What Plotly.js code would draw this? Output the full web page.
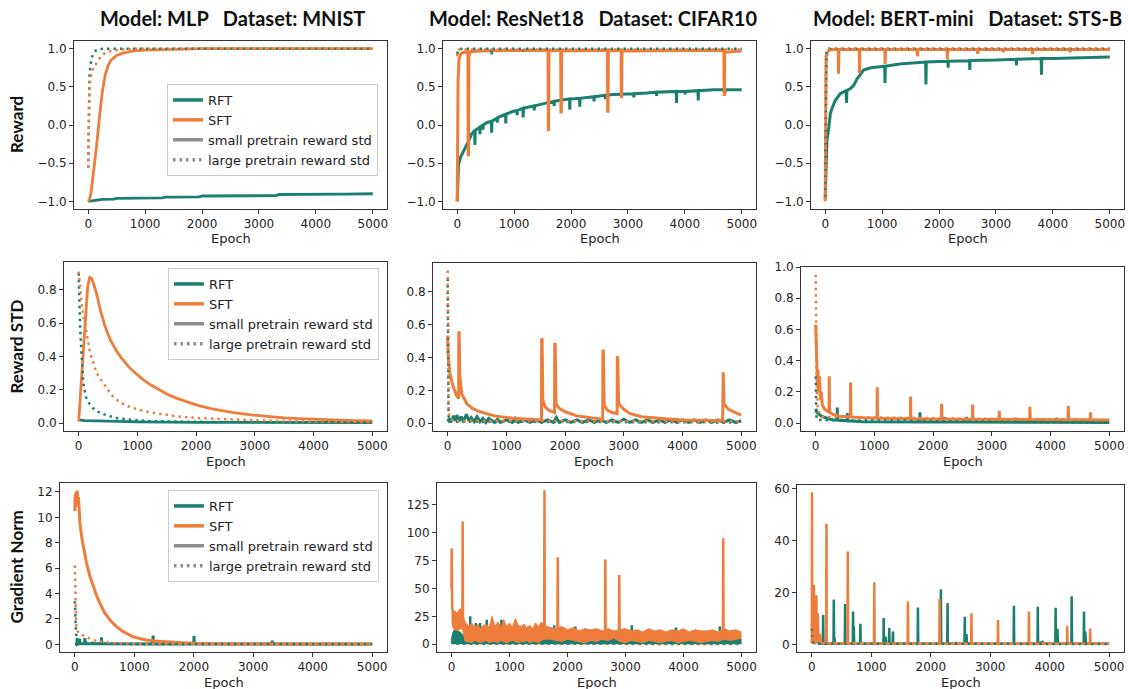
<!DOCTYPE html>
<html><head><meta charset="utf-8">
<script src="https://cdn.plot.ly/plotly-3.0.1.min.js"></script>
<style>html,body{margin:0;padding:0;background:#fff}#chart{width:1128px;height:689px}</style>
</head><body><div id="chart"></div>
<script>
// ---------------- labels ----------------
const colTitles = ['Model: MLP   Dataset: MNIST', 'Model: ResNet18   Dataset: CIFAR10', 'Model: BERT-mini   Dataset: STS-B'];
const rowTitles = ['Reward', 'Reward STD', 'Gradient Norm'];
const xTitle = 'Epoch';
const legendNames = ['RFT', 'SFT', 'small pretrain reward std', 'large pretrain reward std'];
const epochTicks = [0, 1000, 2000, 3000, 4000, 5000];
const rewardTicks = [-1, -0.5, 0, 0.5, 1];
const rewardTickText = ['\u22121.0', '\u22120.5', '0.0', '0.5', '1.0'];
const stdTicks = [0, 0.2, 0.4, 0.6, 0.8];
const stdTickText = ['0.0', '0.2', '0.4', '0.6', '0.8'];
const stdTicksB = [0, 0.2, 0.4, 0.6, 0.8, 1.0];
const stdTickTextB = ['0.0', '0.2', '0.4', '0.6', '0.8', '1.0'];
const gnTicksMlp = [0, 2, 4, 6, 8, 10, 12];
const gnTicksRes = [0, 25, 50, 75, 100, 125];
const gnTicksBert = [0, 20, 40, 60];

// ---------------- Reward: MLP / MNIST ----------------
const mlpRewRftS = [[0,-1.0],[100,-0.99],[250,-0.975],[450,-0.97],[500,-0.96],[1300,-0.955],[1350,-0.945],[1950,-0.94],[2000,-0.93],[3300,-0.925],[3350,-0.91],[4500,-0.905],[5000,-0.9]];
const mlpRewSftS = [[0,-1.0],[25,-0.97],[50,-0.88],[100,-0.6],[150,-0.25],[200,0.12],[250,0.45],[300,0.66],[350,0.78],[400,0.85],[500,0.91],[600,0.94],[800,0.97],[1000,0.98],[1500,0.99],[2000,1.0],[5000,1.0]];
const mlpRewRftL = [[0,-0.56],[10,0.2],[23,0.67],[52,0.85],[80,0.92],[140,0.98],[250,1.0],[5000,1.0]];
const mlpRewSftL = [[0,-0.56],[10,0.0],[20,0.45],[40,0.62],[80,0.72],[157,0.83],[227,0.9],[315,0.95],[400,0.97],[600,0.99],[900,1.0],[5000,1.0]];

// ---------------- Reward: ResNet18 / CIFAR10 ----------------
const resRewRftS = [[0,-1.0],[10,-0.75],[23,-0.52],[60,-0.42],[105,-0.35],[150,-0.3],[193,-0.22],[250,-0.12],[305,-0.07],[311,-0.26],[317,-0.07],[395,-0.03],[399,-0.12],[405,-0.02],[450,0.0],[454,-0.06],[458,0.0],[516,0.03],[600,0.05],[604,-0.1],[610,0.05],[700,0.09],[704,0.03],[708,0.09],[750,0.11],[849,0.14],[853,0.02],[858,0.14],[985,0.18],[1050,0.19],[1054,0.13],[1058,0.19],[1154,0.22],[1158,0.1],[1163,0.22],[1280,0.24],[1350,0.25],[1354,0.19],[1358,0.25],[1575,0.29],[1700,0.31],[1704,0.25],[1708,0.31],[1868,0.33],[1974,0.34],[1978,0.2],[1983,0.34],[2150,0.35],[2154,0.24],[2159,0.35],[2400,0.37],[2404,0.31],[2408,0.37],[2600,0.39],[2604,0.34],[2608,0.39],[2747,0.40],[3100,0.41],[3104,0.36],[3108,0.41],[3334,0.42],[3500,0.43],[3504,0.38],[3508,0.43],[3850,0.44],[3854,0.29],[3859,0.44],[4000,0.44],[4004,0.4],[4008,0.44],[4231,0.45],[4235,0.32],[4240,0.45],[4506,0.46],[4700,0.46],[4704,0.41],[4708,0.46],[5000,0.46]];
const resRewSftS = [[0,-1.0],[5,-0.2],[15,0.6],[30,0.85],[60,0.93],[100,0.95],[188,0.96],[193,-0.39],[199,-0.39],[204,0.9],[230,0.96],[400,0.97],[800,0.975],[1595,0.98],[1600,-0.06],[1606,-0.06],[1611,0.97],[1818,0.98],[1823,0.17],[1829,0.17],[1834,0.97],[2639,0.98],[2644,0.18],[2650,0.18],[2655,0.97],[2879,0.98],[2884,0.37],[2890,0.37],[2895,0.97],[4685,0.98],[4690,0.4],[4696,0.4],[4701,0.95],[4800,0.96],[5000,0.97]];
const resRewRftL = [[0,0.93],[20,0.99],[100,1.0],[598,1.0],[604,0.91],[610,1.0],[1152,1.0],[1158,0.96],[1164,1.0],[5000,1.0]];
const resRewSftL = [[0,0.9],[10,0.98],[30,0.99],[5000,0.99]];

// ---------------- Reward: BERT-mini / STS-B ----------------
const bertRewRftS = [[0,-0.97],[15,-0.5],[30,-0.2],[60,-0.05],[90,0.15],[120,0.22],[175,0.32],[263,0.41],[368,0.45],[374,0.29],[380,0.45],[450,0.48],[500,0.52],[556,0.6],[620,0.67],[673,0.72],[800,0.75],[1045,0.77],[1050,0.55],[1056,0.77],[1300,0.8],[1608,0.82],[1764,0.825],[1770,0.53],[1776,0.825],[2000,0.83],[2155,0.835],[2160,0.75],[2166,0.835],[2535,0.84],[2540,0.72],[2546,0.845],[3000,0.85],[3355,0.86],[3360,0.78],[3366,0.86],[3795,0.87],[3800,0.66],[3806,0.87],[4000,0.87],[4532,0.885],[5000,0.89]];
const bertRewSftS = [[0,-1.0],[8,0.0],[15,0.9],[40,0.95],[80,0.99],[228,0.99],[234,0.67],[240,0.99],[597,0.99],[603,0.68],[609,0.99],[1047,0.99],[1053,0.8],[1059,0.99],[1614,0.99],[1620,0.9],[1626,0.99],[2140,0.99],[2146,0.86],[2152,0.99],[2674,0.99],[2680,0.93],[2686,0.99],[3124,0.99],[3130,0.95],[3136,0.99],[3639,0.99],[3645,0.93],[3651,0.99],[4294,0.99],[4300,0.95],[4306,0.99],[5000,0.99]];
const bertRewRftL = [[0,-0.95],[8,0.5],[20,0.95],[60,1.0],[5000,1.0]];
const bertRewSftL = [[0,-0.97],[5,-0.2],[12,0.7],[30,0.97],[100,1.0],[5000,1.0]];

// ---------------- Reward STD: MLP ----------------
const mlpStdRftS = [[0,0.02],[100,0.015],[500,0.012],[1000,0.008],[2000,0.005],[5000,0.004]];
const mlpStdSftS = [[0,0.01],[40,0.22],[80,0.45],[120,0.67],[153,0.82],[187,0.875],[220,0.87],[260,0.83],[310,0.77],[368,0.68],[450,0.58],[538,0.5],[600,0.46],[651,0.43],[730,0.39],[800,0.36],[860,0.335],[934,0.31],[1000,0.29],[1100,0.262],[1217,0.232],[1350,0.203],[1500,0.175],[1650,0.152],[1800,0.132],[2000,0.11],[2250,0.088],[2500,0.071],[2632,0.064],[2900,0.051],[3198,0.04],[3500,0.032],[3764,0.027],[4000,0.023],[4330,0.019],[4700,0.015],[5000,0.013]];
const mlpStdRftL = [[0,0.9],[7,0.78],[24,0.58],[51,0.4],[79,0.24],[120,0.16],[175,0.12],[270,0.08],[373,0.06],[500,0.045],[655,0.03],[900,0.02],[1221,0.012],[2000,0.008],[3000,0.005],[5000,0.003]];
const mlpStdSftL = [[0,0.91],[20,0.82],[57,0.7],[90,0.62],[127,0.56],[195,0.42],[308,0.30],[400,0.25],[478,0.21],[560,0.17],[648,0.14],[780,0.11],[931,0.09],[1200,0.066],[1497,0.05],[1750,0.038],[2063,0.03],[2600,0.021],[3200,0.015],[4000,0.01],[5000,0.007]];

// ---------------- Reward STD: ResNet18 ----------------
const resStdRftS = [[0,0.01],[30,0.03],[60,0.01],[100,0.045],[130,0.015],[160,0.05],[190,0.01],[230,0.04],[270,0.01],[320,0.055],[360,0.015],[400,0.035],[450,0.01],[500,0.04],[550,0.01],[600,0.03],[650,0.005],[700,0.03],[800,0.005],[850,0.025],[900,0.005],[1000,0.02],[1100,0.005],[1150,0.03],[1200,0.005],[1300,0.02],[1400,0.005],[1500,0.02],[1600,0.005],[1700,0.02],[1800,0.005],[1850,0.035],[1900,0.005],[2000,0.02],[2100,0.005],[2200,0.02],[2300,0.005],[2400,0.02],[2500,0.005],[2600,0.02],[2700,0.005],[2800,0.02],[2900,0.005],[3000,0.025],[3100,0.005],[3200,0.02],[3300,0.005],[3400,0.02],[3500,0.005],[3600,0.02],[3700,0.005],[3800,0.02],[3900,0.005],[4000,0.02],[4100,0.005],[4200,0.02],[4300,0.005],[4400,0.02],[4500,0.005],[4600,0.02],[4700,0.005],[4800,0.02],[4900,0.005],[5000,0.015]];
const resStdSftS = [[0,0.53],[10,0.4],[39,0.30],[96,0.22],[150,0.17],[186,0.15],[190,0.55],[196,0.55],[205,0.3],[238,0.18],[323,0.12],[420,0.09],[549,0.07],[800,0.045],[1116,0.03],[1300,0.025],[1597,0.02],[1600,0.51],[1607,0.51],[1620,0.14],[1660,0.1],[1720,0.08],[1820,0.065],[1823,0.48],[1830,0.48],[1845,0.12],[1900,0.09],[2000,0.07],[2200,0.045],[2400,0.035],[2640,0.025],[2643,0.44],[2650,0.44],[2665,0.11],[2720,0.08],[2800,0.065],[2885,0.06],[2888,0.40],[2895,0.40],[2910,0.12],[3000,0.085],[3100,0.06],[3300,0.04],[3600,0.03],[4000,0.02],[4682,0.015],[4685,0.31],[4692,0.31],[4705,0.12],[4780,0.085],[4900,0.065],[5000,0.05]];
const resStdRftL = [[0,0.88],[5,0.4],[15,0.05],[30,0.01],[5000,0.005]];
const resStdSftL = [[0,0.93],[5,0.5],[15,0.1],[30,0.03],[100,0.015],[5000,0.01]];

// ---------------- Reward STD: BERT-mini ----------------
const bertStdRftS = [[0,0.09],[20,0.07],[50,0.06],[100,0.045],[200,0.03],[300,0.02],[364,0.02],[368,0.10],[373,0.02],[535,0.015],[539,0.065],[544,0.015],[800,0.01],[1200,0.008],[1772,0.008],[1776,0.07],[1781,0.008],[2169,0.008],[2173,0.04],[2178,0.008],[2566,0.007],[2570,0.04],[2575,0.007],[3389,0.006],[3393,0.035],[3398,0.006],[3786,0.006],[3790,0.03],[3795,0.006],[4098,0.006],[4102,0.035],[4107,0.006],[5000,0.005]];
const bertStdSftS = [[0,0.63],[10,0.45],[20,0.35],[30,0.25],[40,0.34],[50,0.2],[65,0.3],[80,0.15],[95,0.2],[110,0.12],[150,0.09],[228,0.07],[231,0.30],[237,0.07],[300,0.055],[400,0.045],[591,0.04],[594,0.26],[600,0.04],[800,0.035],[1045,0.032],[1048,0.23],[1054,0.032],[1300,0.03],[1613,0.028],[1616,0.17],[1622,0.028],[2141,0.026],[2144,0.125],[2150,0.026],[2669,0.025],[2672,0.12],[2678,0.025],[3123,0.024],[3126,0.08],[3132,0.024],[3645,0.023],[3648,0.105],[3654,0.023],[4297,0.022],[4300,0.11],[4306,0.022],[4677,0.022],[4680,0.07],[4686,0.022],[5000,0.02]];
const bertStdRftL = [[0,0.3],[10,0.05],[30,0.02],[5000,0.003]];
const bertStdSftL = [[0,0.95],[5,0.6],[10,0.4],[20,0.2],[40,0.08],[100,0.04],[5000,0.02]];

// ---------------- Gradient Norm: MLP ----------------
const mlpGnRftS = [[0,0.02],[35,0.02],[40,0.5],[46,0.02],[75,0.1],[80,0.3],[90,0.05],[163,0.05],[168,0.5],[174,0.05],[300,0.05],[443,0.05],[448,0.55],[454,0.05],[1311,0.03],[1316,0.7],[1322,0.03],[1999,0.02],[2004,0.65],[2010,0.02],[3315,0.02],[3320,0.3],[3326,0.02],[5000,0.02]];
const mlpGnSftS = [[0,10.5],[5,11.8],[10,10.8],[20,12.0],[30,11.2],[40,12.1],[50,11.0],[60,11.6],[84,9.6],[120,8.3],[160,7.2],[196,6.4],[250,5.4],[308,4.55],[360,3.9],[420,3.25],[500,2.5],[588,1.93],[700,1.4],[812,1.0],[900,0.78],[980,0.6],[1100,0.45],[1200,0.35],[1350,0.27],[1540,0.2],[1800,0.12],[2100,0.07],[2500,0.045],[3000,0.03],[5000,0.02]];
const mlpGnRftL = [[0,3.4],[5,2.0],[10,1.3],[20,0.8],[40,0.5],[100,0.3],[200,0.15],[400,0.08],[800,0.04],[5000,0.01]];
const mlpGnSftL = [[0,6.2],[5,4.0],[10,2.8],[20,1.6],[30,1.2],[50,1.0],[100,0.8],[200,0.55],[300,0.35],[400,0.25],[600,0.12],[1000,0.05],[2000,0.02],[5000,0.01]];

// ---------------- Gradient Norm: ResNet18 (noisy bands + spikes) ----------------
const resGnBandEpoch = [0,20,50,100,150,180,220,260,300,350,400,450,500,550,600,650,700,750,800,850,900,950,1000,1050,1100,1150,1200,1250,1300,1350,1400,1450,1500,1550,1600,1700,1800,1900,2000,2100,2200,2300,2400,2500,2600,2700,2800,2900,3000,3100,3200,3300,3400,3500,3600,3700,3800,3900,4000,4100,4200,4300,4400,4500,4600,4700,4800,4900,5000];
const resGnSftHigh = [45,31,30,28,32,30,22,18,16,19,15,18,14,17,18,15,25,16,20,15,22,16,19,15,23,17,16,18,15,17,14,19,16,20,17,15,14,16,13,15,12,14,13,14,12,14,12,13,14,12,13,11,14,12,13,11,13,12,14,11,13,12,12,13,11,14,12,13,11];
const resGnSftLow = [20,14,13,12,13,14,3,2,2,1,3,2,1,2,3,1,2,2,1,3,2,1,2,3,2,1,2,2,3,1,2,2,1,3,4,4,3,2,4,3,2,1,3,2,4,3,5,2,1,3,2,1,3,2,1,2,3,1,2,3,2,1,2,3,2,4,3,4,5];
const resGnRftHigh = [5,10,13,12,11,9,7,6,8,6,9,5,7,6,8,5,7,6,8,5,6,7,5,6,8,5,6,5,7,5,6,5,6,5,6,5,6,4,5,4,5,4,5,4,5,4,6,4,5,4,5,4,5,4,5,4,5,4,5,4,5,4,5,4,5,6,5,4,5];
const resGnSftSpikes = [[0,50],[3,86],[12,31],[null,null],[188,25],[193,110],[198,20],[null,null],[1598,17],[1603,138],[1608,15],[null,null],[1827,14],[1832,78],[1837,14],[null,null],[2647,13],[2652,76],[2657,13],[null,null],[2888,12],[2893,62],[2898,12],[null,null],[4680,13],[4685,95],[4690,13]];
const resGnRftSpikes = [[318,4],[322,25],[326,4],[null,null],[415,4],[419,19],[423,4],[null,null],[489,4],[493,19],[497,4],[null,null],[604,4],[608,22],[612,4],[null,null],[856,4],[860,22],[864,4],[null,null],[1766,4],[1770,17],[1774,4],[null,null],[2131,4],[2135,16],[2139,4],[null,null],[3104,4],[3108,17],[3112,4],[null,null],[3866,4],[3870,15],[3874,4],[null,null],[4622,4],[4626,16],[4630,4]];
const resGnRftL = [[0,3],[20,1],[100,0.5],[5000,0.3]];
const resGnSftL = [[0,5],[20,2],[100,1],[5000,0.5]];

// ---------------- Gradient Norm: BERT-mini ----------------
const bertGnRftS = [[0,0.5],[30,6],[40,1],[60,5.5],[70,1],[110,2],[120,0.3],[185,0.3],[190,11.4],[195,0.3],[364,0.3],[369,17.3],[374,0.3],[380,2.5],[390,0.3],[554,0.3],[559,15.6],[564,0.3],[688,0.3],[693,12.7],[698,0.3],[705,7],[712,0.3],[811,0.3],[816,8],[821,0.3],[1203,0.3],[1208,10.2],[1213,0.3],[1240,3],[1250,0.3],[1297,0.3],[1302,6.3],[1307,0.3],[1359,0.3],[1364,5],[1369,0.3],[1779,0.3],[1784,14.3],[1789,0.3],[2165,0.3],[2170,21.3],[2175,0.3],[2277,0.3],[2282,16],[2287,0.3],[2427,0.3],[2432,1],[2437,0.3],[2567,0.3],[2572,10.7],[2577,0.3],[2600,4],[2610,0.3],[3393,0.3],[3398,14.9],[3403,0.3],[3795,0.3],[3800,14.5],[3805,0.3],[3880,1],[3890,0.3],[4095,0.3],[4100,14.2],[4105,0.3],[4130,6],[4140,0.3],[4365,0.3],[4370,18.6],[4375,0.3],[4572,0.3],[4577,12.7],[4582,0.3],[4600,5],[4610,0.3],[5000,0.3]];
const bertGnSftS = [[0,0.5],[2,58.7],[6,1],[20,8],[28,1],[33,23],[38,2],[50,10],[58,1],[70,14],[77,19],[84,1],[100,12],[110,1],[140,4],[150,0.5],[240,0.5],[245,46.6],[250,0.5],[599,0.4],[604,35.9],[609,0.4],[1045,0.4],[1050,24],[1055,0.4],[1611,0.3],[1616,16.6],[1621,0.3],[2143,0.3],[2148,17.5],[2153,0.3],[2679,0.3],[2684,12],[2689,0.3],[3126,0.3],[3131,9.4],[3136,0.3],[3646,0.3],[3651,12.7],[3656,0.3],[4290,0.3],[4295,7],[4300,0.3],[4676,0.3],[4681,6.2],[4686,0.3],[5000,0.3]];
const bertGnRftL = [[0,6],[10,1],[50,0.3],[5000,0.2]];
const bertGnSftL = [[0,8],[10,2],[50,0.5],[5000,0.3]];

// ---------------- styling ----------------
const W = 1128, H = 689;
const TEAL = '#1b7f70', ORANGE = '#ee7d3b', GRAY = '#8c8c8c';
const DOT = '2.5px,4px';
const frames = [[74,387,41,209],[443,756,41,209],[811,1124,41,209],
                [64,387,262,431],[433,756,263,431],[801,1124,267,431],
                [60,387,483,652],[437,756,483,652],[797,1124,485,652]];
const yRanges = [[-1.1,1.1],[-1.1,1.1],[-1.1,1.1],[-0.047,0.968],[-0.047,0.975],[-0.05,1.0],[-0.6,12.7],[-6.9,144.4],[-2.9,61.5]];
const yTickVals = [rewardTicks, rewardTicks, rewardTicks, stdTicks, stdTicks, stdTicksB, gnTicksMlp, gnTicksRes, gnTicksBert];
const yTickText = [rewardTickText, rewardTickText, rewardTickText, stdTickText, stdTickText, stdTickTextB, null, null, null];

function ax(i, kind) { return kind + (i > 1 ? i : ''); }
function line(pairs, i, color, dotted, width) {
  return {type: 'scatter', mode: 'lines', x: pairs.map(d => d[0]), y: pairs.map(d => d[1]),
    xaxis: ax(i, 'x'), yaxis: ax(i, 'y'), showlegend: false, hoverinfo: 'skip',
    line: {color: color, width: width || 2.5, dash: dotted ? DOT : 'solid'}};
}

const traces = [];
function addPanel(i, rftS, sftS, rftL, sftL, w) {
  traces.push(line(rftS, i, TEAL, false, w));
  traces.push(line(sftS, i, ORANGE, false, w));
  traces.push(line(rftL, i, TEAL, true));
  traces.push(line(sftL, i, ORANGE, true));
}
addPanel(1, mlpRewRftS, mlpRewSftS, mlpRewRftL, mlpRewSftL, 2.8);
addPanel(2, resRewRftS, resRewSftS, resRewRftL, resRewSftL, 3);
addPanel(3, bertRewRftS, bertRewSftS, bertRewRftL, bertRewSftL, 3);
addPanel(4, mlpStdRftS, mlpStdSftS, mlpStdRftL, mlpStdSftL, 2.8);
addPanel(5, resStdRftS, resStdSftS, resStdRftL, resStdSftL, 3);
addPanel(6, bertStdRftS, bertStdSftS, bertStdRftL, bertStdSftL, 3);
addPanel(7, mlpGnRftS, mlpGnSftS, mlpGnRftL, mlpGnSftL, 3);

// panel 8: noisy bands
traces.push(line(resGnRftL, 8, TEAL, true));
traces.push(line(resGnSftL, 8, ORANGE, true));
traces.push({type: 'scatter', mode: 'lines', x: resGnBandEpoch, y: resGnRftHigh, xaxis: 'x8', yaxis: 'y8',
  fill: 'tozeroy', fillcolor: TEAL, line: {color: TEAL, width: 1}, showlegend: false, hoverinfo: 'skip'});
traces.push(line(resGnRftSpikes, 8, TEAL, false, 2.5));
traces.push({type: 'scatter', mode: 'lines', x: resGnBandEpoch, y: resGnSftLow, xaxis: 'x8', yaxis: 'y8',
  line: {color: ORANGE, width: 0}, showlegend: false, hoverinfo: 'skip'});
traces.push({type: 'scatter', mode: 'lines', x: resGnBandEpoch, y: resGnSftHigh, xaxis: 'x8', yaxis: 'y8',
  fill: 'tonexty', fillcolor: ORANGE, line: {color: ORANGE, width: 1}, showlegend: false, hoverinfo: 'skip'});
traces.push(line(resGnSftSpikes, 8, ORANGE, false, 2.5));

addPanel(9, bertGnRftS, bertGnSftS, bertGnRftL, bertGnSftL, 2.5);

// legend proxies
const legendStyles = [[TEAL, 'solid'], [ORANGE, 'solid'], [GRAY, 'solid'], [GRAY, DOT]];
[['legend', 1], ['legend2', 4], ['legend3', 7]].forEach(([lg, i]) => {
  legendNames.forEach((nm, k) => {
    traces.push({type: 'scatter', mode: 'lines', x: [null], y: [null], name: nm, legend: lg,
      xaxis: ax(i, 'x'), yaxis: ax(i, 'y'), showlegend: true, hoverinfo: 'skip',
      line: {color: legendStyles[k][0], width: 3.5, dash: legendStyles[k][1]}});
  });
});

const layout = {
  width: W, height: H, margin: {l: 0, r: 0, t: 0, b: 0},
  paper_bgcolor: '#fff', plot_bgcolor: '#fff',
  font: {family: 'DejaVu Sans', size: 12, color: '#222'},
  showlegend: true, annotations: []
};
const legendBase = {xanchor: 'left', yanchor: 'top', bgcolor: 'rgba(255,255,255,0.85)', bordercolor: '#cccccc',
  borderwidth: 1, font: {family: 'DejaVu Sans', size: 13, color: '#222'}, tracegroupgap: 0, itemwidth: 30,
  traceorder: 'normal'};
layout.legend = Object.assign({x: 167 / W, y: 1 - 84 / H}, legendBase);
layout.legend2 = Object.assign({x: 168 / W, y: 1 - 268 / H}, legendBase);
layout.legend3 = Object.assign({x: 168 / W, y: 1 - 490 / H}, legendBase);

frames.forEach((f, k) => {
  const i = k + 1;
  const xa = {domain: [f[0] / W, f[1] / W], range: [-250, 5250], anchor: ax(i, 'y'),
    tickvals: epochTicks, ticktext: epochTicks.map(String), showgrid: false, zeroline: false,
    showline: true, mirror: true, linecolor: '#333', linewidth: 1, ticks: 'outside', ticklen: 4,
    tickcolor: '#333', tickfont: {family: 'DejaVu Sans', size: 12, color: '#222'}};
  const ya = {domain: [1 - f[3] / H, 1 - f[2] / H], range: yRanges[k], anchor: ax(i, 'x'),
    tickvals: yTickVals[k], showgrid: false, zeroline: false,
    showline: true, mirror: true, linecolor: '#333', linewidth: 1, ticks: 'outside', ticklen: 4,
    tickcolor: '#333', tickfont: {family: 'DejaVu Sans', size: 12, color: '#222'}};
  if (yTickText[k]) ya.ticktext = yTickText[k]; else ya.ticktext = yTickVals[k].map(String);
  layout['xaxis' + (i > 1 ? i : '')] = xa;
  layout['yaxis' + (i > 1 ? i : '')] = ya;
  layout.annotations.push({text: xTitle, xref: 'paper', yref: 'paper', x: (f[0] + f[1]) / 2 / W,
    y: 1 - (f[3] + 30) / H, xanchor: 'center', yanchor: 'middle', showarrow: false,
    font: {family: 'DejaVu Sans', size: 13, color: '#222'}});
});

const colCenters = [232, 593, 967];
colTitles.forEach((t, c) => {
  layout.annotations.push({text: '<b>' + t.replace(/ /g, '\u00a0') + '</b>', xref: 'paper', yref: 'paper', x: colCenters[c] / W,
    y: 1 - 18 / H, xanchor: 'center', yanchor: 'middle', showarrow: false,
    font: {family: 'Lato', size: 20, color: '#111'}});
});
const rowCenters = [125, 346.5, 567.5];
rowTitles.forEach((t, r) => {
  layout.annotations.push({text: '<b>' + t + '</b>', xref: 'paper', yref: 'paper', x: 16 / W,
    y: 1 - rowCenters[r] / H, xanchor: 'center', yanchor: 'middle', showarrow: false, textangle: -90,
    font: {family: 'Lato', size: 17, color: '#111'}});
});

Plotly.newPlot('chart', traces, layout, {staticPlot: true, displayModeBar: false});
</script></body></html>
